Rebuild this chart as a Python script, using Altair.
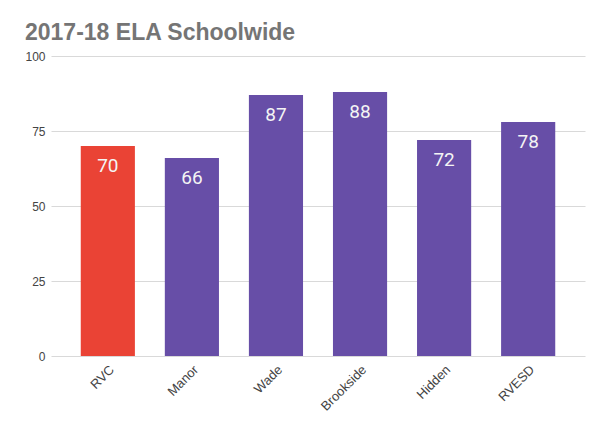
import altair as alt
import pandas as pd

schools = ["RVC", "Manor", "Wade", "Brookside", "Hidden", "RVESD"]
scores = [70, 66, 87, 88, 72, 78]
colors = ["#EA4335", "#674EA7", "#674EA7", "#674EA7", "#674EA7", "#674EA7"]

df = pd.DataFrame({"school": schools, "score": scores, "color": colors})

x = alt.X("school:N", sort=schools, title=None,
          scale=alt.Scale(paddingInner=0.356, paddingOuter=0.354),
          axis=alt.Axis(labelAngle=-45, labelFont="Liberation Sans", labelFontSize=13,
                        labelColor="#444444", ticks=False, domain=False, labelPadding=7))
y = alt.Y("score:Q", title=None,
          scale=alt.Scale(domain=[0, 100]),
          axis=alt.Axis(values=[0, 25, 50, 75, 100], labelFont="Liberation Sans",
                        labelFontSize=12, labelColor="#444444", ticks=False, domain=False,
                        gridColor="#d9d9d9", labelPadding=6))

bars = alt.Chart(df).mark_bar().encode(
    x=x, y=y, color=alt.Color("color:N", scale=None)
)

labels = alt.Chart(df).mark_text(
    font="Roboto", fontSize=19, color="#f4f4f4", baseline="alphabetic", dy=26
).encode(x=x, y=y, text="score:Q")

chart = alt.layer(bars, labels).properties(
    width=534, height=300,
    title=alt.TitleParams("2017-18 ELA Schoolwide", anchor="start", frame="group",
                          font="Liberation Sans", fontSize=23, fontWeight="bold",
                          color="#757575", dx=-26, offset=5),
    autosize=alt.AutoSizeParams(type="none"),
    padding={"left": 43, "top": 48, "right": 12, "bottom": 66},
).configure_view(stroke=None)

chart.save("out.html", embed_options={"renderer": "svg", "actions": False})
